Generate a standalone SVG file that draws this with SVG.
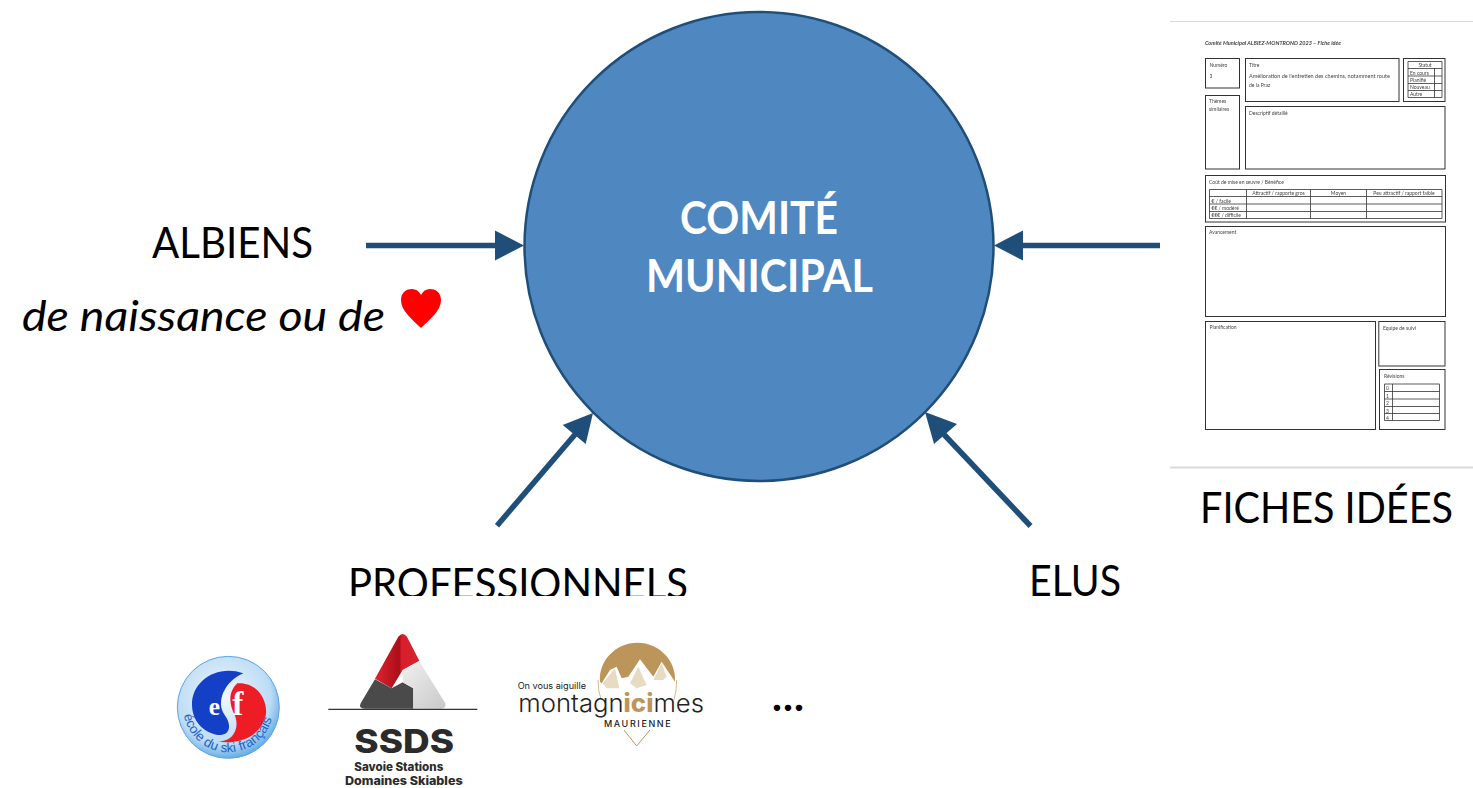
<svg xmlns="http://www.w3.org/2000/svg" width="1473" height="788" viewBox="0 0 1473 788">
<style>
text{font-family:"Lato","Liberation Sans",sans-serif;fill:#000}
.lbl{font-size:42px}
.big{font-size:45px;font-weight:700;fill:#fff}
.conn{stroke:#1f4e79;stroke-width:5.5;fill:none}
.head{fill:#1f4e79}
.b{fill:#fff;stroke:#333;stroke-width:1}
.t{fill:none;stroke:#333;stroke-width:.8}
.f{font-size:5px;fill:#444}
.ssds{font-family:"Inter","Liberation Sans",sans-serif;font-weight:800;fill:#2b2b2b}
.m{font-family:"Inter","Liberation Sans",Arial,sans-serif;fill:#222}
</style>
<defs>
<clipPath id="cut"><rect x="300" y="550" width="420" height="46"/></clipPath>
<filter id="soft" x="0" y="0" width="1" height="1"><feGaussianBlur stdDeviation=".3"/></filter>
<radialGradient id="esfg" cx="45%" cy="40%" r="65%"><stop offset="0" stop-color="#f2f8fd"/><stop offset=".72" stop-color="#bcdcf5"/><stop offset="1" stop-color="#4b9be0"/></radialGradient>
<linearGradient id="red" x1="0" x2="1"><stop offset="0" stop-color="#e0232e"/><stop offset=".55" stop-color="#a90f1a"/><stop offset=".6" stop-color="#d81e2a"/><stop offset="1" stop-color="#d42430"/></linearGradient>
<linearGradient id="lg" x1="0" y1="0" x2="1" y2="1"><stop offset="0" stop-color="#f0f0f0"/><stop offset="1" stop-color="#c9c9c9"/></linearGradient>
</defs>

<g id="connectors">
<path class="conn" d="M366 245.500H497"/><path class="head" d="M524 245.500L495 230.500V260.500Z"/>
<path class="conn" d="M1160 245.500H1022"/><path class="head" d="M994 245.500L1023 230.500V260.500Z"/>
<path class="conn" d="M497 525.700L575 434.500"/><path class="head" d="M593 413L562.700 425L585.700 444Z"/>
<path class="conn" d="M1030.500 526L944 434.500"/><path class="head" d="M925 412L934 444L957 424Z"/>
</g>

<g id="comite">
<circle cx="759" cy="246.500" r="234.500" fill="#4f88c0" stroke="#1f4e79" stroke-width="2.500"/>
<text class="big" x="759" y="234" text-anchor="middle" textLength="158" lengthAdjust="spacingAndGlyphs">COMITÉ</text>
<text class="big" x="759.500" y="292" text-anchor="middle" textLength="227" lengthAdjust="spacingAndGlyphs">MUNICIPAL</text>
</g>

<g id="albiens">
<text class="lbl" x="152" y="258" textLength="161" lengthAdjust="spacingAndGlyphs">ALBIENS</text>
<text class="lbl" x="22" y="331" font-style="italic" textLength="363" lengthAdjust="spacingAndGlyphs">de naissance ou de</text>
<path d="M421 328C412 319 401 311 401 300C401 292 407 289 412 289C416 289 419 291 421 295C423 291 426 289 430 289C435 289 441 292 441 300C441 311 430 319 421 328Z" fill="#f00"/>
</g>

<g id="professionnels">
<text class="lbl" x="348" y="599" clip-path="url(#cut)" textLength="340" lengthAdjust="spacingAndGlyphs">PROFESSIONNELS</text>
</g>

<g id="elus"><text class="lbl" x="1029" y="596" textLength="92" lengthAdjust="spacingAndGlyphs">ELUS</text></g>

<g id="fiches">
<path d="M1170 21.500H1473" stroke="#d9d9d9" stroke-width="1"/>
<path d="M1170 467.500H1473" stroke="#d9d9d9" stroke-width="2"/>
<g filter="url(#soft)">
<text class="f" x="1205" y="45" font-style="italic" font-weight="700" textLength="136" lengthAdjust="spacingAndGlyphs">Comité Municipal ALBIEZ-MONTROND 2023 – Fiche idée</text>
<rect class="b" x="1205.500" y="58.500" width="34" height="29.500"/><text class="f" x="1209.500" y="66.500">Numéro</text><text class="f" x="1209.500" y="77.500">3</text>
<rect class="b" x="1245.500" y="58.500" width="153.500" height="43"/><text class="f" x="1249" y="66.500">Titre</text>
<text class="f" x="1249" y="77.500" textLength="141" lengthAdjust="spacingAndGlyphs">Amélioration de l'entretien des chemins, notamment route</text><text class="f" x="1249" y="86.500">de la Praz</text>
<rect class="b" x="1403.500" y="58.500" width="41.500" height="43"/>
<path class="t" d="M1408 61.500H1442V97.500H1408ZM1408 68.500H1442M1408 76H1442M1408 83.500H1442M1408 90.500H1442M1434.500 68.500V97.500"/>
<text class="f" x="1425" y="66.500" text-anchor="middle">Statut</text>
<text class="f" x="1410" y="74.500">En cours</text><text class="f" x="1410" y="81.500">Planifié</text><text class="f" x="1410" y="89">Nouveau</text><text class="f" x="1410" y="96">Autre</text>
<rect class="b" x="1205.500" y="95.500" width="34" height="73.500"/><text class="f" x="1209" y="102.500">Thèmes</text><text class="f" x="1209" y="110.500">similaires</text>
<rect class="b" x="1245.500" y="106.500" width="199.500" height="62.500"/><text class="f" x="1249" y="114.500">Descriptif détaillé</text>
<rect class="b" x="1205.500" y="175.500" width="240" height="46.500"/><text class="f" x="1209" y="183.500">Coût de mise en œuvre / Bénéfice</text>
<path class="t" d="M1209.500 189.500H1442V218.500H1209.500ZM1209.500 196.500H1442M1209.500 204H1442M1209.500 211.500H1442M1246.500 189.500V218.500M1310.500 189.500V218.500M1366.500 189.500V218.500"/>
<text class="f" x="1278.500" y="194.800" text-anchor="middle">Attractif / rapporte gros</text><text class="f" x="1338.500" y="194.800" text-anchor="middle">Moyen</text><text class="f" x="1404" y="194.800" text-anchor="middle">Peu attractif / rapport faible</text>
<text class="f" x="1211.500" y="202.500">€ / facile</text><text class="f" x="1211.500" y="210">€€ / modéré</text><text class="f" x="1211.500" y="217.300">€€€ / difficile</text>
<rect class="b" x="1205.500" y="226.500" width="240" height="90"/><text class="f" x="1209" y="233.500">Avancement</text>
<rect class="b" x="1205.500" y="321.500" width="170" height="108"/><text class="f" x="1209.500" y="329">Planification</text>
<rect class="b" x="1378.800" y="321.500" width="66.200" height="44.500"/><text class="f" x="1383" y="329.500">Equipe de suivi</text>
<rect class="b" x="1379.500" y="369.500" width="65.500" height="60"/><text class="f" x="1384" y="377.500">Révisions</text>
<path class="t" d="M1384.500 384H1439.500V420.500H1384.500ZM1384.500 391.500H1439.500M1384.500 399H1439.500M1384.500 406.500H1439.500M1384.500 413.500H1439.500M1392.500 384V420.500"/>
<text class="f" x="1386" y="390">0</text><text class="f" x="1386" y="397.500">1</text><text class="f" x="1386" y="405">2</text><text class="f" x="1386" y="412.500">3</text><text class="f" x="1386" y="419.500">4</text>
</g>
<text class="lbl" x="1200" y="523" textLength="253" lengthAdjust="spacingAndGlyphs">FICHES IDÉES</text>
</g>

<g id="esf" transform="translate(160 620) scale(.3333)">
<circle cx="205" cy="262" r="153" fill="url(#esfg)" stroke="#5aa5e6" stroke-width="3"/>
<path d="M250 160C170 132 94 185 96 255C97 300 125 335 172 345C215 348 214 312 194 285C168 250 190 185 250 160Z" fill="#1440c8"/>
<path d="M232 190C292 186 322 240 318 282C312 335 250 378 172 364C215 368 242 328 224 285C206 250 205 215 232 190Z" fill="#ee1c25"/>
<text x="146" y="285" font-size="76" style="font-family:'Liberation Serif',serif;font-weight:700;fill:#fff">e</text>
<text x="217" y="285" font-size="100" style="font-family:'Liberation Serif',serif;font-weight:700;fill:#fff">f</text>
<path id="esfarc" d="M72 285A135 135 0 0 0 338 285" fill="none"/>
<text font-size="40" style="font-family:'Liberation Sans',sans-serif;fill:#1e63c8"><textPath href="#esfarc" textLength="366" lengthAdjust="spacingAndGlyphs">école du ski français</textPath></text>
</g>

<g id="ssds" transform="translate(160 620) scale(.3333)">
<path d="M645 176L715 50Q728 34 741 50L778 122L728 150L695 205Z" fill="url(#red)"/>
<path d="M645 178L695 205L728 187L760 205V266H615Q595 266 602 250Z" fill="#4a4a4a"/>
<path d="M728 150L778 124L856 250Q860 266 842 266H760V205L728 187Z" fill="url(#lg)"/>
<path d="M505 268H952" stroke="#333" stroke-width="4"/>
<text class="ssds" x="583" y="399" font-size="97" textLength="299" lengthAdjust="spacingAndGlyphs">SSDS</text>
<text class="ssds" x="583" y="452" font-size="34" textLength="267" lengthAdjust="spacingAndGlyphs">Savoie Stations</text>
<text class="ssds" x="555" y="495" font-size="34" textLength="353" lengthAdjust="spacingAndGlyphs">Domaines Skiables</text>
</g>

<g id="montagnicimes" transform="translate(500 620) scale(.3333)">
<path d="M300 185C295 125 345 68 412 68C480 68 530 125 525 185L485 125L460 170L420 118L385 170L365 175L350 140L330 150L305 190Z" fill="#bc955a"/>
<path d="M294 180Q294 215 304 240M530 180Q530 215 522 240" fill="none" stroke="#bc955a" stroke-width="2"/>
<path d="M308 190L345 145L358 205L320 205ZM390 190L415 140L440 195L410 205ZM460 180L485 130L500 170L490 180Z" fill="#e8dbc4"/>
<path d="M372 330L410 378L450 330" fill="none" stroke="#bc955a" stroke-width="3"/>
<text class="m" x="53" y="208" font-size="25" textLength="205" lengthAdjust="spacingAndGlyphs">On vous aiguille</text>
<text class="m" x="55" y="275" font-size="74" font-weight="300" textLength="557" lengthAdjust="spacingAndGlyphs">montagn<tspan style="font-weight:800;fill:#bc955a">ici</tspan>mes</text>
<text class="m" x="312" y="320" font-size="27" font-weight="500" textLength="200" lengthAdjust="spacing">MAURIENNE</text>
</g>

<g id="more"><text class="lbl" x="772" y="711" textLength="32" font-weight="700" lengthAdjust="spacing">...</text></g>
</svg>
